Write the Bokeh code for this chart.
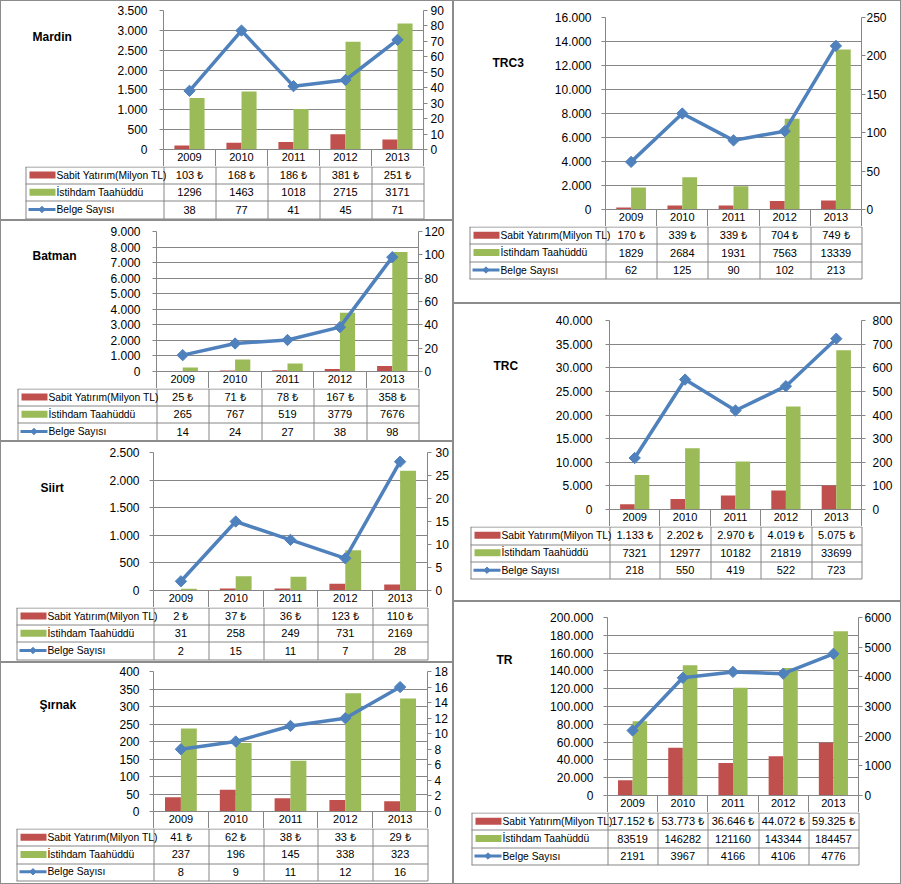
import numpy as np
from bokeh.plotting import figure
from bokeh.models import Range1d, LinearAxis, FixedTicker, CustomJSTickFormatter
from bokeh.layouts import row, column
from bokeh.core.properties import value
from bokeh.embed import file_html
from bokeh.resources import INLINE

# ---------------- data ----------------
years = ["2009", "2010", "2011", "2012", "2013"]

mardin_sabit = [103, 168, 186, 381, 251]
mardin_istihdam = [1296, 1463, 1018, 2715, 3171]
mardin_belge = [38, 77, 41, 45, 71]

batman_sabit = [25, 71, 78, 167, 358]
batman_istihdam = [265, 767, 519, 3779, 7676]
batman_belge = [14, 24, 27, 38, 98]

siirt_sabit = [2, 37, 36, 123, 110]
siirt_istihdam = [31, 258, 249, 731, 2169]
siirt_belge = [2, 15, 11, 7, 28]

sirnak_sabit = [41, 62, 38, 33, 29]
sirnak_istihdam = [237, 196, 145, 338, 323]
sirnak_belge = [8, 9, 11, 12, 16]

trc3_sabit = [170, 339, 339, 704, 749]
trc3_istihdam = [1829, 2684, 1931, 7563, 13339]
trc3_belge = [62, 125, 90, 102, 213]

trc_sabit = [1133, 2202, 2970, 4019, 5075]
trc_istihdam = [7321, 12977, 10182, 21819, 33699]
trc_belge = [218, 550, 419, 522, 723]

tr_sabit = [17152, 53773, 36646, 44072, 59325]
tr_istihdam = [83519, 146282, 121160, 143344, 184457]
tr_belge = [2191, 3967, 4166, 4106, 4776]

series_labels = ["Sabit Yatırım(Milyon TL)", "İstihdam Taahüddü", "Belge Sayısı"]

# axis scales: (left max, left step, right max, right step)
axes_cfg = {
    "Mardin": (3500, 500, 90, 10),
    "Batman": (9000, 1000, 120, 20),
    "Siirt": (2500, 500, 30, 5),
    "Şırnak": (400, 50, 18, 2),
    "TRC3": (16000, 2000, 250, 50),
    "TRC": (40000, 5000, 800, 100),
    "TR": (200000, 20000, 6000, 1000),
}

data = {
    "Mardin": (mardin_sabit, mardin_istihdam, mardin_belge),
    "Batman": (batman_sabit, batman_istihdam, batman_belge),
    "Siirt": (siirt_sabit, siirt_istihdam, siirt_belge),
    "Şırnak": (sirnak_sabit, sirnak_istihdam, sirnak_belge),
    "TRC3": (trc3_sabit, trc3_istihdam, trc3_belge),
    "TRC": (trc_sabit, trc_istihdam, trc_belge),
    "TR": (tr_sabit, tr_istihdam, tr_belge),
}

# ---------------- layout (page pixels) ----------------
geom = {
    "Mardin": dict(box=(0, 0, 453, 220), FL=163, FR=423, FT=10, FB=149, RH=17.2, LL=25, TX=32, TY=32, TW=80, lso=12, rso=3),
    "Batman": dict(box=(0, 220, 453, 441), FL=156, FR=418, FT=231, FB=371, RH=17.2, LL=17, TX=32, TY=250, TW=80, lso=12, rso=2),
    "Siirt": dict(box=(0, 441, 453, 662), FL=153, FR=427, FT=452, FB=590, RH=17.2, LL=16, TX=40, TY=485, TW=80, lso=10, rso=4),
    "Şırnak": dict(box=(0, 662, 453, 884), FL=153, FR=427, FT=671, FB=811, RH=17.3, LL=16, TX=39, TY=703, TW=80, lso=10, rso=3),
    "TRC3": dict(box=(453, 0, 901, 303), FL=605, FR=861, FT=17, FB=209, RH=17.4, LL=469, TX=492, TY=54, TW=70, lso=10, rso=1),
    "TRC": dict(box=(453, 303, 901, 601), FL=609, FR=861, FT=320, FB=509, RH=17.5, LL=470, TX=493, TY=357, TW=70, lso=13, rso=7),
    "TR": dict(box=(453, 601, 901, 884), FL=607, FR=858, FT=617, FB=795, RH=17.4, LL=471, TX=496, TY=652, TW=70, lso=10, rso=2),
}

RED = "#C0504D"
GREEN = "#9BBB59"
BLUE = "#4F81BD"
GRID = "#868686"
BORDER = "#8c8c8c"
FONT = "Liberation Sans"
RHC = 17  # years row height (chart bottom border)

LEFT_FMT = r"return Math.round(tick).toString().replace(/\B(?=(\d{3})+(?!\d))/g, '.');"
RIGHT_FMT = "return Math.round(tick).toString();"


def dotted(v):
    return f"{v:,}".replace(",", ".")


def blank_fig(w, h, xr, yr):
    f = figure(width=w, height=h, x_range=xr, y_range=yr, output_backend="svg",
               toolbar_location=None, x_axis_type=None, y_axis_type=None, min_border=0)
    f.outline_line_color = None
    f.background_fill_color = "white"
    f.border_fill_color = "white"
    return f


def make_panel(name):
    g = geom[name]
    sabit, ist, belge = data[name]
    lmax, lstep, rmax, rstep = axes_cfg[name]
    X0, Y0, X1, Y1 = g["box"]
    cx0, cy0, cx1, cy1 = X0 + 1, Y0 + 1, X1 - 1, Y1 - 1
    cw_total = cx1 - cx0
    FL, FR, FT, FB, RH, LL = g["FL"], g["FR"], g["FT"], g["FB"], g["RH"], g["LL"]
    TW = g["TW"]
    ch = FB + RHC - cy0

    # ---- title figure ----
    tf = blank_fig(TW, ch, Range1d(cx0, cx0 + TW), Range1d(cy0 + ch, cy0))
    tf.text(x=[g["TX"]], y=[g["TY"]], text=[name], text_font=value(FONT),
            text_font_size=value("12px"), text_font_style="bold", text_color="black",
            text_baseline="middle", text_align="left")

    # ---- chart figure ----
    cw = cw_total - TW
    p = figure(width=cw, height=ch, x_range=Range1d(0, 5), y_range=Range1d(0, lmax),
               output_backend="svg", toolbar_location=None,
               min_border_left=FL - (cx0 + TW), min_border_right=cx1 - FR,
               min_border_top=FT - cy0, min_border_bottom=RHC)
    p.outline_line_color = None
    p.background_fill_color = "white"
    p.border_fill_color = "white"
    p.xgrid.visible = False

    lt = FixedTicker(ticks=list(np.arange(0, lmax + lstep / 2, lstep)), minor_ticks=[])
    p.yaxis.ticker = lt
    p.ygrid.ticker = lt
    p.ygrid.grid_line_color = GRID
    p.ygrid.grid_line_width = 1
    p.yaxis.formatter = CustomJSTickFormatter(code=LEFT_FMT)
    p.yaxis.major_tick_out = 4
    p.yaxis.major_tick_in = 0
    p.yaxis.minor_tick_line_color = None
    p.yaxis.axis_line_color = GRID
    p.yaxis.major_tick_line_color = GRID
    p.yaxis.major_label_standoff = g["lso"]
    p.yaxis.major_label_text_font = FONT
    p.yaxis.major_label_text_font_size = "12px"
    p.yaxis.major_label_text_color = "black"

    xt = FixedTicker(ticks=[i + 0.5 for i in range(5)], minor_ticks=[i for i in range(6)])
    p.xaxis.ticker = xt
    p.xaxis.formatter = CustomJSTickFormatter(args=dict(labels=years),
                                              code="return labels[Math.floor(tick)];")
    p.xaxis.major_tick_out = 0
    p.xaxis.major_tick_in = 0
    p.xaxis.major_tick_line_color = None
    p.xaxis.minor_tick_out = RHC
    p.xaxis.minor_tick_in = 0
    p.xaxis.minor_tick_line_color = GRID
    p.xaxis.axis_line_color = GRID
    p.xaxis.major_label_standoff = -RHC + 3
    p.xaxis.major_label_text_font = FONT
    p.xaxis.major_label_text_font_size = "11px"
    p.xaxis.major_label_text_color = "black"

    p.extra_y_ranges = {"r": Range1d(0, rmax)}
    rax = LinearAxis(y_range_name="r",
                     ticker=FixedTicker(ticks=list(np.arange(0, rmax + rstep / 2, rstep)), minor_ticks=[]),
                     formatter=CustomJSTickFormatter(code=RIGHT_FMT))
    rax.major_tick_out = 4
    rax.major_tick_in = 0
    rax.minor_tick_line_color = None
    rax.axis_line_color = GRID
    rax.major_tick_line_color = GRID
    rax.major_label_standoff = g["rso"]
    rax.major_label_text_font = FONT
    rax.major_label_text_font_size = "12px"
    rax.major_label_text_color = "black"
    p.add_layout(rax, "right")

    bw = 0.29
    xc = [i + 0.5 for i in range(5)]
    p.vbar(x=[x - bw / 2 for x in xc], top=sabit, bottom=0, width=bw, fill_color=RED, line_color=None)
    p.vbar(x=[x + bw / 2 for x in xc], top=ist, bottom=0, width=bw, fill_color=GREEN, line_color=None)
    p.line(xc, belge, y_range_name="r", line_color=BLUE, line_width=3.5, line_join="round")
    p.scatter(xc, belge, y_range_name="r", marker="square", angle=np.pi / 4, size=8,
              fill_color=BLUE, line_color=BLUE)

    # ---- table figure ----
    T0 = FB + RHC
    th = cy1 - T0
    t = blank_fig(cw_total, th, Range1d(cx0, cx1), Range1d(cy1, T0))
    colw = (FR - FL) / 5.0
    rows_y = [T0 + k * RH for k in range(4)]
    hy = [round(y) + 0.5 for y in rows_y]
    hy[0] = T0 + 0.5
    t.segment(x0=[LL] * 4, y0=hy, x1=[FR + 0.5] * 4, y1=hy, line_color=GRID, line_width=1)
    vx = [LL + 0.5] + [round(FL + i * colw) + 0.5 for i in range(6)]
    t.segment(x0=vx, y0=[hy[0]] * len(vx), x1=vx, y1=[hy[3]] * len(vx), line_color=GRID, line_width=1)

    yc = [T0 + (k + 0.5) * RH for k in range(3)]
    # legend keys
    t.quad(left=[LL + 4, LL + 4], right=[LL + 30, LL + 30],
           top=[yc[0] - 3.5, yc[1] - 3.5], bottom=[yc[0] + 3.5, yc[1] + 3.5],
           fill_color=[RED, GREEN], line_color=None)
    t.segment(x0=[LL + 3], y0=[yc[2]], x1=[LL + 30], y1=[yc[2]], line_color=BLUE, line_width=3)
    t.scatter([LL + 16.5], [yc[2]], marker="square", angle=np.pi / 4, size=4.5,
              fill_color=BLUE, line_color=BLUE)
    t.text(x=[LL + 31] * 3, y=yc, text=series_labels, text_font=value(FONT),
           text_font_size=value("10.3px"), text_color="black", text_baseline="middle",
           text_align="left")

    cxs = [FL + (i + 0.5) * colw for i in range(5)]
    row_txt = [[dotted(v) + " ₺" for v in sabit], [str(v) for v in ist], [str(v) for v in belge]]
    for k in range(3):
        t.text(x=cxs, y=[yc[k]] * 5, text=row_txt[k], text_font=value(FONT),
               text_font_size=value("11px"), text_color="black", text_baseline="middle",
               text_align="center")

    panel = column(row(tf, p, spacing=0), t, spacing=0,
                   styles={"border": "1px solid " + BORDER, "box-sizing": "content-box"})
    return panel


left = column([make_panel(n) for n in ["Mardin", "Batman", "Siirt", "Şırnak"]], spacing=0)
right = column([make_panel(n) for n in ["TRC3", "TRC", "TR"]], spacing=0)
layout = row(left, right, spacing=0)

open("out.html", "w").write(file_html(layout, INLINE))
